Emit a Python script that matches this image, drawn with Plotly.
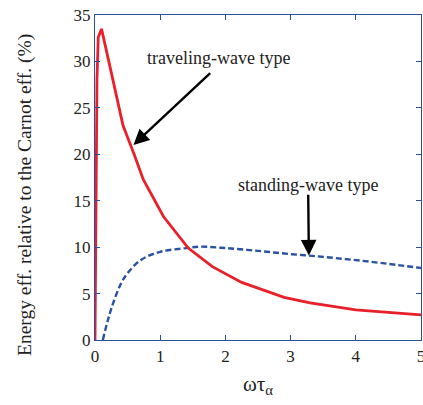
import plotly.graph_objects as go

# Traveling-wave type (red solid)
trav_x = [0, 0.01, 0.03, 0.05, 0.1, 0.25, 0.43, 0.6, 0.74, 1.05, 1.43, 1.8, 2.25, 2.9, 3.3, 4.0, 4.5, 5.0]
trav_y = [0, 15, 28, 32.6, 33.5, 28.8, 23.1, 20.0, 17.3, 13.3, 9.9, 7.9, 6.2, 4.6, 4.0, 3.25, 2.95, 2.7]

# Standing-wave type (blue dashed)
stand_x = [0.12, 0.2, 0.28, 0.4, 0.5, 0.7, 1.0, 1.4, 1.6, 2.0, 2.5, 3.0, 3.5, 4.0, 4.5, 5.0]
stand_y = [0, 2.2, 4.0, 6.1, 7.2, 8.6, 9.5, 9.9, 10.05, 9.9, 9.6, 9.25, 8.95, 8.6, 8.2, 7.75]

x_ticks = [0, 1, 2, 3, 4, 5]
y_ticks = [0, 5, 10, 15, 20, 25, 30, 35]

FONT = "Liberation Serif"
AXC = "#2a4f9e"
TXT = "#222"

fig = go.Figure()
fig.add_trace(go.Scatter(x=stand_x, y=stand_y, mode="lines",
                         line=dict(color="#2852a3", width=2.4, dash="6px,3px", shape="spline"),
                         showlegend=False))
fig.add_trace(go.Scatter(x=trav_x, y=trav_y, mode="lines",
                         line=dict(color="#e8202a", width=2.8),
                         showlegend=False))

axis_common = dict(ticks="inside", ticklen=5, tickcolor=AXC, showline=True,
                   linecolor=AXC, linewidth=1.2, mirror="ticks", showgrid=False,
                   zeroline=False, automargin=False, ticklabeloverflow="allow",
                   tickfont=dict(family=FONT, size=17, color=TXT))

fig.update_layout(
    width=423, height=405,
    margin=dict(l=95, r=2, t=15, b=65),
    paper_bgcolor="white", plot_bgcolor="white",
    font=dict(family=FONT, size=17, color=TXT),
    xaxis=dict(range=[0, 5], tickvals=x_ticks, **axis_common),
    yaxis=dict(range=[0, 35], tickvals=y_ticks, **axis_common),
    annotations=[
        dict(text="traveling-wave type", x=1.9, y=30.35, xref="x", yref="y",
             showarrow=False, font=dict(family=FONT, size=18, color=TXT),
             xanchor="center", yanchor="middle"),
        dict(x=0.59, y=21.0, ax=1.79, ay=28.9, xref="x", yref="y", axref="x", ayref="y",
             text="", showarrow=True, arrowhead=2, arrowsize=1.3, arrowwidth=2.4, arrowcolor="black"),
        dict(text="standing-wave type", x=3.26, y=16.7, xref="x", yref="y",
             showarrow=False, font=dict(family=FONT, size=18, color=TXT),
             xanchor="center", yanchor="middle"),
        dict(x=3.28, y=9.1, ax=3.27, ay=15.8, xref="x", yref="y", axref="x", ayref="y",
             text="", showarrow=True, arrowhead=2, arrowsize=1.3, arrowwidth=2.4, arrowcolor="black"),
        dict(text="ωτ<sub>α</sub>", x=0.5, y=-0.138, xref="paper", yref="paper",
             showarrow=False, font=dict(family=FONT, size=21, color=TXT),
             xanchor="center", yanchor="middle"),
        dict(text="Energy eff. relative to the Carnot eff. (%)", x=-0.215, y=0.446,
             xref="paper", yref="paper", textangle=-90, showarrow=False,
             font=dict(family=FONT, size=19.5, color=TXT),
             xanchor="center", yanchor="middle"),
    ],
)

post = ("document.body.style.margin='0';document.body.style.padding='0';"
        "document.body.style.overflow='hidden';"
        "var gd=document.getElementById('{plot_id}');"
        "Plotly.relayout(gd,{width:423,height:405});")

fig.write_html("out.html", config={"responsive": False, "displayModeBar": False},
               post_script=post)
